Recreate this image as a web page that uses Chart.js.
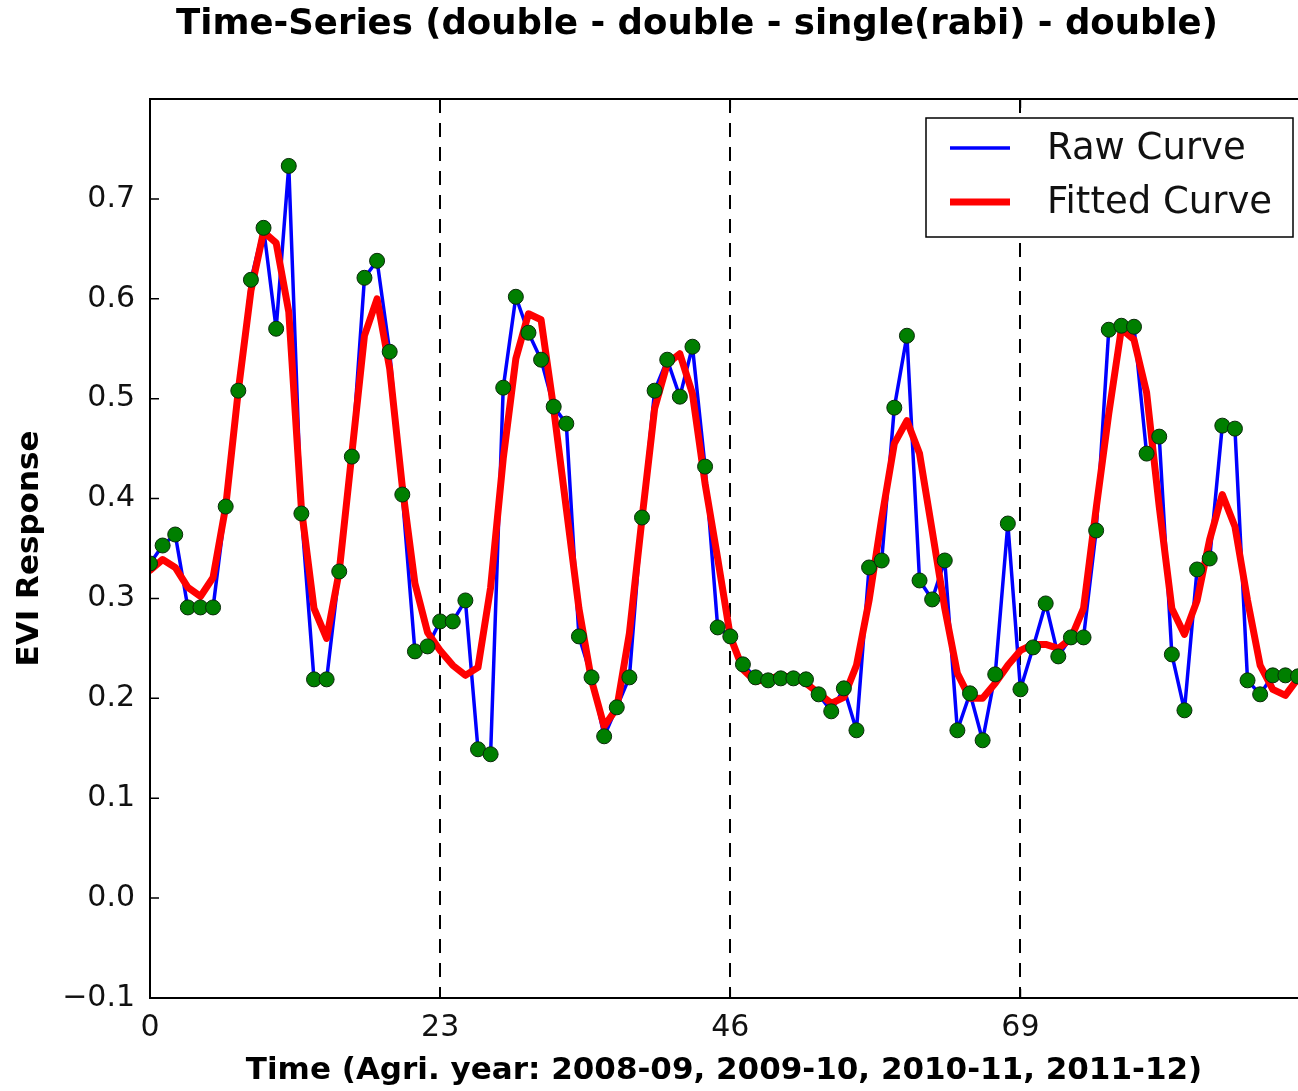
<!DOCTYPE html>
<html>
<head>
<meta charset="utf-8">
<script src="https://cdn.jsdelivr.net/npm/chart.js@4.4.1/dist/chart.umd.min.js"></script>
<style>
  html, body { margin: 0; padding: 0; background: #fff; }
  canvas { display: block; }
</style>
</head>
<body>
<canvas id="evi" width="1298" height="1091"></canvas>
<script>
// raw EVI samples (green dots / blue line), one per 16-day step
const rawEVI = [0.335, 0.353, 0.364, 0.291, 0.291, 0.291, 0.392, 0.508, 0.619, 0.671,
    0.570, 0.733, 0.385, 0.219, 0.219, 0.327, 0.442, 0.621, 0.638, 0.547,
    0.404, 0.247, 0.252, 0.277, 0.277, 0.298, 0.149, 0.144, 0.511, 0.602,
    0.566, 0.539, 0.492, 0.475, 0.262, 0.221, 0.162, 0.191, 0.221, 0.381,
    0.508, 0.539, 0.502, 0.552, 0.432, 0.271, 0.262, 0.234, 0.221, 0.218,
    0.220, 0.220, 0.219, 0.204, 0.187, 0.210, 0.168, 0.331, 0.338, 0.491,
    0.563, 0.318, 0.299, 0.338, 0.168, 0.205, 0.158, 0.224, 0.375, 0.209,
    0.251, 0.295, 0.242, 0.261, 0.261, 0.368, 0.569, 0.573, 0.572, 0.445,
    0.462, 0.244, 0.188, 0.329, 0.340, 0.473, 0.470, 0.218, 0.204, 0.223,
    0.223, 0.222];

// fitted curve (red)
const fittedEVI = [0.328, 0.339, 0.331, 0.311, 0.302, 0.321, 0.392, 0.508, 0.608, 0.667,
    0.656, 0.587, 0.390, 0.290, 0.260, 0.327, 0.445, 0.563, 0.600, 0.530,
    0.412, 0.315, 0.266, 0.248, 0.233, 0.223, 0.231, 0.311, 0.440, 0.540,
    0.585, 0.579, 0.490, 0.390, 0.290, 0.218, 0.172, 0.190, 0.265, 0.380,
    0.490, 0.535, 0.545, 0.505, 0.415, 0.340, 0.262, 0.229, 0.217, 0.219,
    0.223, 0.221, 0.215, 0.205, 0.195, 0.201, 0.233, 0.298, 0.380, 0.455,
    0.478, 0.445, 0.368, 0.290, 0.225, 0.200, 0.200, 0.215, 0.233, 0.248,
    0.254, 0.254, 0.250, 0.260, 0.290, 0.390, 0.485, 0.570, 0.559, 0.506,
    0.392, 0.290, 0.264, 0.298, 0.359, 0.404, 0.372, 0.298, 0.233, 0.209,
    0.203, 0.220];

const xTicks = [0, 23, 46, 69];
const yTicks = [-0.1, 0.0, 0.1, 0.2, 0.3, 0.4, 0.5, 0.6, 0.7];
const seasonBreaks = [23, 46, 69];

const FONT = 'DejaVu Sans';

const toPoints = arr => arr.map((v, i) => ({ x: i, y: v }));

// background, dashed season lines, frame, inward ticks, legend, title
const extras = {
    id: 'extras',
    beforeDraw(chart) {
        const c = chart.ctx;
        c.save();
        c.fillStyle = '#fff';
        c.fillRect(0, 0, chart.width, chart.height);
        c.restore();
    },
    beforeDatasetsDraw(chart) {
        const c = chart.ctx, a = chart.chartArea, xs = chart.scales.x;
        c.save();
        c.strokeStyle = '#000';
        c.lineWidth = 2;
        c.setLineDash([14, 10]);
        seasonBreaks.forEach(v => {
            const px = Math.round(xs.getPixelForValue(v));
            c.beginPath();
            c.moveTo(px, a.top);
            c.lineTo(px, a.bottom);
            c.stroke();
        });
        c.restore();
    },
    afterDatasetsDraw(chart) {
        const c = chart.ctx, a = chart.chartArea;
        const xs = chart.scales.x, ys = chart.scales.y;
        c.save();
        c.strokeStyle = '#000';
        c.lineWidth = 2;
        c.strokeRect(a.left, a.top, a.right - a.left + 10, a.bottom - a.top);
        // inward ticks
        c.lineWidth = 1.5;
        c.beginPath();
        yTicks.forEach(v => {
            const py = ys.getPixelForValue(v);
            c.moveTo(a.left, py); c.lineTo(a.left + 9, py);
        });
        xTicks.forEach(v => {
            const px = xs.getPixelForValue(v);
            c.moveTo(px, a.bottom); c.lineTo(px, a.bottom - 9);
            c.moveTo(px, a.top); c.lineTo(px, a.top + 9);
        });
        c.stroke();

        // legend
        const lx = 926, ly = 118, lw = 367, lh = 119;
        c.fillStyle = '#fff';
        c.fillRect(lx, ly, lw, lh);
        c.lineWidth = 1.5;
        c.strokeRect(lx, ly, lw, lh);
        const items = [
            { label: 'Raw Curve', color: '#0000ff', width: 3.5, y: 148 },
            { label: 'Fitted Curve', color: '#ff0000', width: 7, y: 202 }
        ];
        c.font = '37px "' + FONT + '"';
        c.textBaseline = 'middle';
        c.textAlign = 'left';
        items.forEach(it => {
            c.strokeStyle = it.color;
            c.lineWidth = it.width;
            c.beginPath();
            c.moveTo(950, it.y); c.lineTo(1010, it.y);
            c.stroke();
            c.fillStyle = '#111';
            c.fillText(it.label, 1047, it.y + 1);
        });

        // title
        c.fillStyle = '#000';
        c.font = 'bold 35.5px "' + FONT + '"';
        c.textAlign = 'center';
        c.fillText('Time-Series (double - double - single(rabi) - double)', 697, 25);
        c.restore();
    }
};

new Chart(document.getElementById('evi'), {
    type: 'scatter',
    data: {
        datasets: [
            {
                label: 'Raw points',
                data: toPoints(rawEVI),
                showLine: false,
                pointRadius: 7.5,
                pointBackgroundColor: '#007f00',
                pointBorderColor: '#0a2a0a',
                pointBorderWidth: 1,
                order: 0
            },
            {
                label: 'Fitted Curve',
                data: toPoints(fittedEVI),
                showLine: true,
                borderColor: '#ff0000',
                borderWidth: 7,
                borderJoinStyle: 'round',
                borderCapStyle: 'round',
                pointRadius: 0,
                tension: 0,
                order: 1
            },
            {
                label: 'Raw Curve',
                data: toPoints(rawEVI),
                showLine: true,
                borderColor: '#0000ff',
                borderWidth: 3.5,
                borderJoinStyle: 'round',
                pointRadius: 0,
                tension: 0,
                order: 2
            }
        ]
    },
    options: {
        responsive: false,
        animation: false,
        devicePixelRatio: 1,
        layout: { autoPadding: false, padding: { top: 99, left: 0, right: 0, bottom: 0 } },
        plugins: {
            legend: { display: false },
            title: { display: false },
            tooltip: { enabled: false }
        },
        scales: {
            x: {
                type: 'linear',
                min: 0,
                max: 91,
                grid: { display: false, drawTicks: false },
                border: { display: true, color: '#000', width: 2 },
                afterBuildTicks: s => { s.ticks = xTicks.map(v => ({ value: v })); },
                afterFit: s => { s.height = 93; s.paddingRight = 0; s.paddingLeft = 0; },
                ticks: {
                    padding: 12,
                    color: '#111',
                    font: { family: FONT, size: 30 },
                    callback: v => String(v)
                },
                title: {
                    display: true,
                    text: 'Time (Agri. year: 2008-09, 2009-10, 2010-11, 2011-12)',
                    color: '#000',
                    font: { family: FONT, size: 31, weight: 'bold' },
                    padding: { top: 0, bottom: 1 }
                }
            },
            y: {
                min: -0.1,
                max: 0.8,
                grid: { display: false, drawTicks: false },
                border: { display: true, color: '#000', width: 2 },
                afterBuildTicks: s => { s.ticks = yTicks.map(v => ({ value: v })); },
                afterFit: s => { s.width = 150; },
                ticks: {
                    padding: 15,
                    color: '#111',
                    font: { family: FONT, size: 30 },
                    callback: v => (v < -1e-9 ? '\u2212' : '') + Math.abs(v).toFixed(1)
                },
                title: {
                    display: true,
                    text: 'EVI Response',
                    color: '#000',
                    font: { family: FONT, size: 31, weight: 'bold' },
                    padding: { top: 11, bottom: 0 }
                }
            }
        }
    },
    plugins: [extras]
});
</script>
</body>
</html>
